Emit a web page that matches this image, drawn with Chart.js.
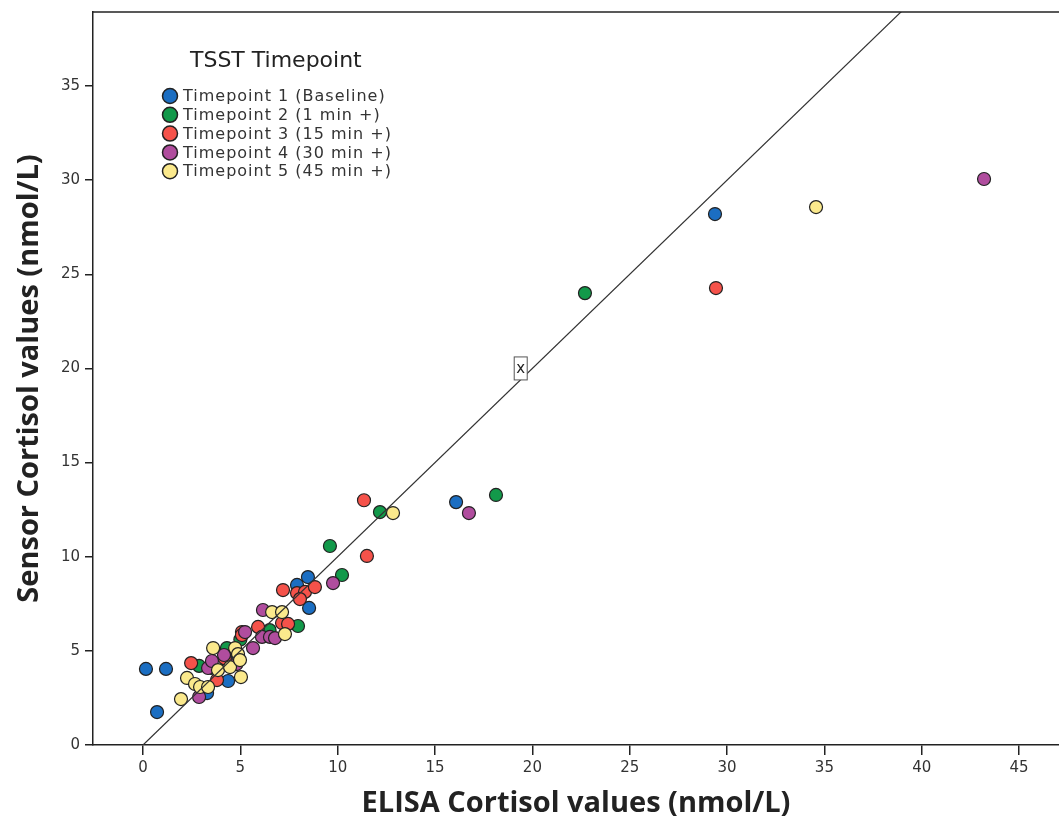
<!DOCTYPE html>
<html>
<head>
<meta charset="utf-8">
<title>ELISA vs Sensor Cortisol</title>
<script src="https://cdn.jsdelivr.net/npm/chart.js@4.4.1/dist/chart.umd.min.js"></script>
<style>
body { margin: 0; background: #fff; }
#wrap { width: 1059px; height: 822px; }
</style>
</head>
<body>
<div id="wrap"><canvas id="scatter" width="1059" height="822"></canvas></div>
<script>
// values, nmol/L
const seriesNames = ["Timepoint 1 (Baseline)", "Timepoint 2 (1 min +)", "Timepoint 3 (15 min +)", "Timepoint 4 (30 min +)", "Timepoint 5 (45 min +)"];
const seriesColors = ["#1b6ec2", "#12994a", "#f5524a", "#b04d9e", "#fbe98c"];

const elisa1  = [0.15, 1.18, 0.72, 4.37, 3.29, 4.6, 6.4, 7.91, 8.47, 8.53, 16.08, 29.38];
const sensor1 = [4.04, 4.04, 1.75, 3.40, 2.76, 4.4, 6.0, 8.50, 8.92, 7.28, 12.90, 28.20];

const elisa2  = [2.88, 3.5, 4.31, 5.0, 6.5, 7.96, 10.22, 9.60, 12.17, 18.13, 22.70];
const sensor2 = [4.20, 4.1, 5.15, 5.6, 6.1, 6.32, 9.03, 10.57, 12.37, 13.28, 24.00];

const elisa3  = [2.47, 3.80, 4.2, 5.08, 5.08, 5.91, 7.14, 7.45, 7.19, 7.91, 8.32, 8.06, 8.83, 11.35, 11.50, 29.43];
const sensor3 = [4.35, 3.45, 4.6, 6.00, 5.84, 6.27, 6.48, 6.43, 8.23, 8.07, 8.13, 7.75, 8.39, 13.00, 10.04, 24.27];

const elisa4  = [2.88, 3.34, 3.54, 4.16, 4.8, 5.24, 5.65, 6.11, 6.52, 6.78, 6.16, 9.76, 16.74, 43.20];
const sensor4 = [2.55, 4.09, 4.46, 4.78, 4.3, 6.00, 5.15, 5.74, 5.74, 5.68, 7.17, 8.60, 12.32, 30.06];

const elisa5  = [1.95, 2.26, 2.67, 2.93, 3.34, 3.60, 3.85, 4.47, 4.73, 4.88, 4.98, 5.03, 6.63, 7.14, 7.29, 12.84, 34.57];
const sensor5 = [2.44, 3.56, 3.24, 3.08, 3.08, 5.15, 3.98, 4.14, 5.15, 4.83, 4.51, 3.61, 7.06, 7.06, 5.89, 12.32, 28.57];

const xTicks = [0, 5, 10, 15, 20, 25, 30, 35, 40, 45];
const yTicks = [0, 5, 10, 15, 20, 25, 30, 35];
const refLineX = [0, 40];
const refLineY = [0, 40];
const refMarker = [19.4, 20.0];

function pts(xs, ys) {
    return xs.map((x, i) => ({x: x, y: ys[i]}));
}

const elisaAll = [elisa1, elisa2, elisa3, elisa4, elisa5];
const sensorAll = [sensor1, sensor2, sensor3, sensor4, sensor5];
const drawOrder = [5, 4, 3, 2, 1]; // later timepoints sit on top

let datasets = [{
    type: "line",
    data: pts(refLineX, refLineY),
    borderColor: "#333",
    borderWidth: 1.2,
    pointRadius: 0,
    fill: false,
    order: 0
}];
for (let i = 0; i < 5; i++) {
    datasets.push({
        label: seriesNames[i],
        data: pts(elisaAll[i], sensorAll[i]),
        backgroundColor: seriesColors[i],
        borderColor: "#222",
        borderWidth: 1.2,
        pointRadius: 6.5,
        order: drawOrder[i]
    });
}

const frameAndLegend = {
    id: "frameAndLegend",
    afterDraw(chart) {
        const c = chart.ctx;
        const a = chart.chartArea;
        const sx = chart.scales.x, sy = chart.scales.y;
        c.save();
        // top frame line
        c.strokeStyle = "#222";
        c.lineWidth = 1.5;
        c.beginPath();
        c.moveTo(a.left, a.top);
        c.lineTo(a.right, a.top);
        c.stroke();

        // label box on the reference line
        const mx = sx.getPixelForValue(refMarker[0]);
        const my = sy.getPixelForValue(refMarker[1]);
        c.fillStyle = "#fff";
        c.strokeStyle = "#555";
        c.lineWidth = 1;
        c.fillRect(mx - 6.5, my - 11.5, 13, 23);
        c.strokeRect(mx - 6.5, my - 11.5, 13, 23);
        c.fillStyle = "#222";
        c.font = "15px 'DejaVu Sans'";
        c.textAlign = "center";
        c.textBaseline = "middle";
        c.fillText("x", mx, my + 1);

        // legend
        c.textAlign = "left";
        c.textBaseline = "middle";
        c.fillStyle = "#222";
        c.font = "22px 'DejaVu Sans'";
        c.fillText("TSST Timepoint", 190, 61);
        c.font = "16px 'DejaVu Sans'";
        c.letterSpacing = "1px";
        for (let i = 0; i < 5; i++) {
            const y = 96 + i * 18.8;
            c.beginPath();
            c.arc(170, y, 7.5, 0, Math.PI * 2);
            c.fillStyle = seriesColors[i];
            c.fill();
            c.strokeStyle = "#222";
            c.lineWidth = 1.5;
            c.stroke();
            c.fillStyle = "#333";
            c.fillText(seriesNames[i], 183, y + 1);
        }
        c.restore();
    }
};

const tickFont = {family: "'DejaVu Sans'", size: 15};
const titleFont = {family: "'Open Sans'", size: 29, weight: "bold"};

new Chart(document.getElementById("scatter"), {
    type: "scatter",
    data: {datasets: datasets},
    options: {
        responsive: false,
        animation: false,
        layout: {autoPadding: false, padding: {top: 12, right: 0, left: 0, bottom: 0}},
        plugins: {
            legend: {display: false},
            tooltip: {enabled: false}
        },
        scales: {
            x: {
                type: "linear",
                min: -2.57,
                max: 47.05,
                afterBuildTicks: (s) => { s.ticks = xTicks.map(v => ({value: v})); },
                afterFit: (s) => { s.height = 77; s.paddingLeft = 0; s.paddingRight = 0; },
                grid: {drawOnChartArea: false, drawTicks: true, tickLength: 10, color: "#222", lineWidth: 1.5},
                border: {display: true, color: "#222", width: 1.5},
                ticks: {font: tickFont, color: "#333", padding: 4, maxRotation: 0},
                title: {display: true, text: "ELISA Cortisol values (nmol/L)", font: titleFont, color: "#222", padding: {top: 0, bottom: 1}}
            },
            y: {
                type: "linear",
                min: 0,
                max: 38.93,
                afterBuildTicks: (s) => { s.ticks = yTicks.map(v => ({value: v})); },
                afterFit: (s) => { s.width = 93; s.paddingTop = 0; s.paddingBottom = 0; },
                grid: {drawOnChartArea: false, drawTicks: true, tickLength: 8, color: "#222", lineWidth: 1.5},
                border: {display: true, color: "#222", width: 1.5},
                ticks: {font: tickFont, color: "#333", padding: 5},
                title: {display: true, text: "Sensor Cortisol values (nmol/L)", font: titleFont, color: "#222", padding: {top: 12, bottom: 0}}
            }
        }
    },
    plugins: [frameAndLegend]
});
</script>
</body>
</html>
